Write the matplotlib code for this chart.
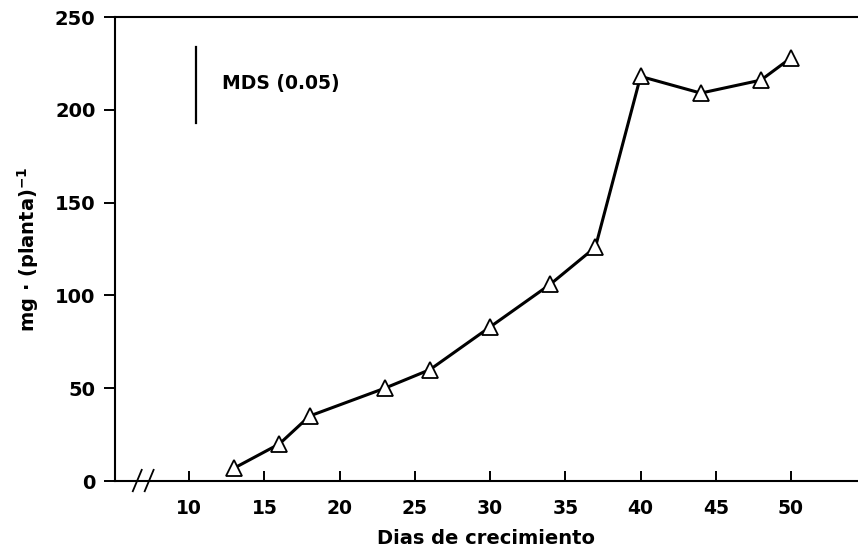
"""Dry matter accumulation per plant over days of growth."""

import matplotlib.pyplot as plt

plt.rcParams["font.family"] = "DejaVu Sans"
plt.rcParams["font.weight"] = "bold"
plt.rcParams["mathtext.default"] = "regular"

dias = [13, 16, 18, 23, 26, 30, 34, 37, 40, 44, 48, 50]
peso = [7, 20, 35, 50, 60, 83, 106, 126, 218, 209, 216, 228]

x_ticks = [10, 15, 20, 25, 30, 35, 40, 45, 50]
y_ticks = [0, 50, 100, 150, 200, 250]

# least significant difference bar
mds_x = 10.45
mds_lo, mds_hi = 193, 234

fig = plt.figure(figsize=(8.58, 5.52), dpi=100)
ax = fig.add_axes([0.134, 0.1286, 0.866, 0.8406])

ax.plot(dias, peso, color="black", linewidth=2.2, marker="^", markersize=11,
        markerfacecolor="white", markeredgecolor="black", markeredgewidth=1.3,
        zorder=3)

ax.plot([mds_x, mds_x], [mds_lo, mds_hi], color="black", linewidth=1.6)
ax.text(12.2, 214, "MDS (0.05)", fontsize=13.5, fontweight="bold",
        va="center", ha="left")

ax.set_xlim(5.07, 54.45)
ax.set_ylim(0, 250)
ax.set_xticks(x_ticks)
ax.set_yticks(y_ticks)
ax.tick_params(axis="x", direction="in", length=7, width=1.4, pad=13,
               labelsize=13.5)
ax.tick_params(axis="y", direction="out", length=8, width=1.4, pad=6,
               labelsize=14)

ax.spines["right"].set_visible(False)
for side in ("left", "bottom", "top"):
    ax.spines[side].set_linewidth(1.5)

# axis break on the x axis
for x0 in (0.024, 0.040):
    ax.plot([x0, x0 + 0.012], [-0.022, 0.024], transform=ax.transAxes,
            color="black", linewidth=1.3, clip_on=False)

ax.set_xlabel("Dias de crecimiento", fontsize=14, fontweight="bold",
              labelpad=8)
ax.set_ylabel(r"mg · (planta)$^{-1}$", fontsize=14, fontweight="bold",
              labelpad=10)

plt.savefig("out.png", dpi=100, facecolor="white")
plt.close()
